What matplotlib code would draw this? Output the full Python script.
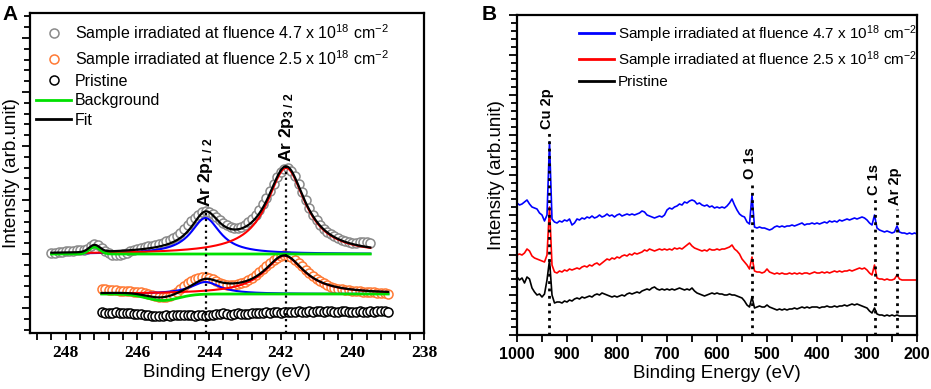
import numpy as np
import matplotlib.pyplot as plt
from matplotlib.ticker import MultipleLocator, AutoMinorLocator
from matplotlib.lines import Line2D
from matplotlib.font_manager import FontProperties

plt.rcParams['font.family'] = ['Liberation Sans', 'DejaVu Sans']
plt.rcParams['mathtext.fontset'] = 'custom'
plt.rcParams['mathtext.rm'] = 'Liberation Sans'
plt.rcParams['mathtext.bf'] = 'Liberation Sans:bold'
plt.rcParams['mathtext.it'] = 'Liberation Sans:italic'
plt.rcParams['mathtext.default'] = 'regular'

# ---------------- panel A : Ar 2p high resolution ----------------
gray_e = np.linspace(248.4, 239.5, 90)
gray_y = [55, 55, 56, 56, 57, 57, 57, 58, 58, 58,
          59, 62, 64, 63, 60, 57, 55, 53, 53, 53,
          54, 55, 57, 58, 59, 60, 61, 62, 62, 63,
          64, 65, 67, 68, 70, 72, 75, 79, 83, 87,
          90, 93, 96, 97, 96, 94, 91, 88, 85, 83,
          81, 80, 80, 81, 83, 86, 89, 93, 98, 104,
          110, 117, 124, 131, 136, 139, 140, 137, 132, 124,
          116, 108, 100, 93, 88, 83, 79, 76, 74, 72,
          70, 68, 67, 66, 65, 65, 66, 66, 66, 65]

orange_e = np.linspace(247.0, 239.0, 81)
orange_y = [19, 19, 18, 18, 18, 17, 17, 17, 17, 16,
            16, 16, 15, 14, 13, 12, 11, 11, 11, 12,
            14, 16, 19, 22, 25, 27, 29, 30, 31, 31,
            30, 29, 27, 25, 24, 23, 23, 23, 24, 25,
            26, 28, 30, 33, 36, 39, 42, 45, 48, 50,
            52, 53, 52, 51, 48, 45, 42, 38, 35, 32,
            29, 27, 25, 23, 21, 20, 19, 19, 18, 18,
            17, 17, 17, 16, 16, 16, 16, 15, 15, 15,
            14]

prist_e = np.linspace(247.0, 239.0, 81)
prist_y = [-4, -5, -5, -5, -4, -5, -5, -5, -5, -6,
           -6, -6, -7, -7, -8, -8, -8, -8, -7, -8,
           -7, -7, -7, -7, -7, -7, -8, -7, -7, -8,
           -7, -7, -6, -6, -5, -6, -7, -6, -5, -6,
           -6, -6, -5, -5, -5, -5, -4, -5, -4, -4,
           -5, -4, -4, -4, -4, -3, -4, -4, -3, -4,
           -3, -3, -4, -3, -3, -4, -4, -3, -3, -4,
           -4, -4, -3, -4, -4, -3, -4, -3, -3, -3,
           -4]

# fit parameters (centre eV, height, half width)
gray_base = 54
gray_bump = (247.2, 7, 0.15)
gray_p32 = (241.85, 86, 0.65)
gray_p12 = (244.1, 36, 0.5)
orange_base = 14
orange_dip = (245.3, -6.5, 0.45)
orange_p32 = (241.9, 38, 0.68)
orange_p12 = (244.1, 12, 0.5)
prist_base = -6.5

peak_e_a = [244.1, 241.85]
peak_lbl_a = [r'Ar 2p$_{\mathbf{1\ /\ 2}}$', r'Ar 2p$_{\mathbf{3\ /\ 2}}$']
xticks_a = [248, 246, 244, 242, 240, 238]

# ---------------- panel B : survey ----------------
survey_e = np.arange(1000, 199, -5)
blue_y = [132, 130, 131, 133, 135, 131, 128, 127, 126, 122,
          120, 114, 120, 193, 116, 113, 112, 114, 113, 115,
          114, 116, 110, 112, 116, 115, 117, 116, 118, 117,
          119, 117, 118, 120, 118, 119, 121, 119, 120, 118,
          120, 121, 119, 120, 121, 120, 121, 120, 121, 122,
          124, 123, 120, 119, 118, 117, 118, 119, 118, 120,
          125, 127, 126, 128, 129, 131, 130, 133, 132, 134,
          135, 134, 131, 132, 130, 129, 130, 128, 129, 127,
          128, 127, 128, 127, 129, 132, 136, 130, 125, 121,
          119, 118, 113, 111, 140, 108, 107, 108, 107, 107,
          106, 105, 106, 108, 109, 108, 109, 108, 109, 109,
          110, 109, 110, 111, 112, 110, 111, 111, 112, 111,
          112, 111, 112, 113, 112, 114, 113, 114, 113, 115,
          114, 115, 116, 115, 116, 117, 116, 117, 118, 117,
          115, 112, 110, 120, 107, 105, 104, 103, 104, 103,
          102, 103, 109, 103, 102, 102, 101, 102, 101, 102,
          101]
red_y = [80, 81, 80, 82, 86, 84, 79, 77, 76, 75,
         74, 73, 80, 128, 70, 63, 62, 64, 63, 65,
         64, 66, 65, 66, 67, 66, 68, 69, 68, 70,
         69, 71, 72, 70, 72, 74, 76, 75, 77, 76,
         78, 77, 79, 80, 79, 81, 80, 82, 81, 82,
         83, 85, 84, 86, 85, 84, 85, 86, 85, 86,
         85, 86, 85, 87, 86, 87, 86, 88, 90, 92,
         89, 87, 86, 85, 84, 85, 84, 86, 85, 85,
         86, 85, 86, 86, 87, 88, 90, 86, 84, 81,
         76, 73, 70, 66, 78, 64, 63, 63, 62, 63,
         66, 63, 62, 61, 62, 61, 62, 61, 61, 62,
         61, 62, 61, 62, 61, 62, 62, 61, 62, 63,
         62, 62, 63, 62, 63, 62, 63, 64, 63, 64,
         63, 64, 64, 65, 64, 65, 66, 67, 66, 67,
         65, 62, 60, 70, 57, 56, 56, 55, 56, 55,
         55, 56, 60, 56, 55, 55, 55, 55, 55, 55,
         55]
black_y = [58, 55, 57, 52, 58, 56, 47, 43, 40, 41,
           38, 41, 55, 75, 40, 32, 33, 33, 32, 34,
           33, 35, 34, 36, 37, 36, 38, 37, 38, 39,
           38, 40, 41, 40, 42, 41, 40, 39, 38, 39,
           38, 39, 40, 39, 41, 42, 41, 42, 43, 42,
           44, 45, 46, 45, 47, 48, 46, 45, 46, 45,
           46, 45, 46, 45, 46, 47, 46, 45, 46, 45,
           47, 44, 42, 41, 40, 39, 40, 41, 42, 41,
           42, 41, 41, 40, 40, 41, 40, 40, 39, 38,
           37, 34, 30, 28, 38, 27, 28, 29, 28, 28,
           30, 28, 27, 26, 25, 26, 25, 26, 25, 26,
           26, 27, 26, 27, 28, 27, 28, 27, 28, 28,
           28, 27, 28, 28, 29, 28, 28, 29, 28, 29,
           29, 30, 29, 30, 31, 30, 31, 30, 29, 28,
           27, 24, 22, 27, 21, 20, 20, 19, 20, 19,
           20, 19, 20, 19, 19, 19, 19, 19, 19, 19,
           19]

peak_e_b = [936, 531, 284, 240]
peak_top_b = [202, 152, 136, 126]
peak_lbl_b = ['Cu 2p', 'O 1s', 'C 1s', 'Ar 2p']
xticks_b = [1000, 900, 800, 700, 600, 500, 400, 300, 200]

labels = ['Sample irradiated at fluence 4.7 x 10$^{18}$ cm$^{-2}$',
          'Sample irradiated at fluence 2.5 x 10$^{18}$ cm$^{-2}$',
          'Pristine']

GRAY = '#8a8a8a'
ORANGE = '#ff7a35'
GREEN = '#00e000'


def lor(x, p):
    c, h, w = p
    return h / (1 + ((x - c) / w) ** 2)


def gau(x, p):
    c, h, s = p
    return h * np.exp(-0.5 * ((x - c) / s) ** 2)


fig = plt.figure(figsize=(9.31, 3.89), dpi=100)
axA = fig.add_axes([30 / 931, 56 / 389, 394 / 931, 320 / 389])
axB = fig.add_axes([517 / 931, 54 / 389, 400 / 931, 320 / 389])

# circles
mk = dict(ls='none', marker='o', ms=6.5, mfc='white', mew=1.1, zorder=2)
axA.plot(gray_e, gray_y, mec=GRAY, **mk)
axA.plot(orange_e, orange_y, mec=ORANGE, **mk)
axA.plot(prist_e, prist_y, mec='k', **mk)

# fits
xg = np.linspace(gray_e[0], gray_e[-1], 500)
axA.plot(xg, gray_base + lor(xg, gray_p12), color='blue', lw=1.5, zorder=3)
axA.plot(xg, gray_base + lor(xg, gray_p32), color='red', lw=1.5, zorder=3)
axA.plot(xg, gray_base + gau(xg, gray_bump), color=GREEN, lw=2, zorder=3)
axA.plot(xg, gray_base + gau(xg, gray_bump) + lor(xg, gray_p12) + lor(xg, gray_p32),
         color='k', lw=1.6, zorder=4)

xo = np.linspace(orange_e[0], orange_e[-1], 500)
axA.plot(xo, orange_base + lor(xo, orange_p12), color='blue', lw=1.5, zorder=3)
axA.plot(xo, orange_base + lor(xo, orange_p32), color='red', lw=1.5, zorder=3)
axA.plot(xo, orange_base + gau(xo, orange_dip), color=GREEN, lw=2, zorder=3)
axA.plot(xo, orange_base + gau(xo, orange_dip) + lor(xo, orange_p12) + lor(xo, orange_p32),
         color='k', lw=1.6, zorder=4)
axA.plot(prist_e, np.full(len(prist_e), prist_base), color=GREEN, lw=1.5, zorder=1)

# peak markers
gray_fit = lambda x: gray_base + gau(x, gray_bump) + lor(x, gray_p12) + lor(x, gray_p32)
for e, lbl in zip(peak_e_a, peak_lbl_a):
    top = gray_fit(e)
    axA.plot([e, e], [-25, top], ls=':', color='k', lw=1.6, zorder=5)
    axA.text(e, top + 4, lbl, rotation=90, ha='center', va='bottom',
             fontsize=12.5, fontweight='bold')

axA.set_xlim(249, 238)
axA.set_ylim(-25, 295)
axA.set_xticks(xticks_a)
axA.xaxis.set_minor_locator(AutoMinorLocator(5))
axA.yaxis.set_major_locator(MultipleLocator(54))
axA.yaxis.set_minor_locator(AutoMinorLocator(5))
axA.tick_params(labelleft=False)
axA.set_xlabel('Binding Energy (eV)', fontsize=13.5, labelpad=2)
axA.set_ylabel('Intensity (arb.unit)', fontsize=13.5, labelpad=0)

handles_a = [Line2D([], [], mec=GRAY, **mk), Line2D([], [], mec=ORANGE, **mk),
             Line2D([], [], mec='k', **mk),
             Line2D([], [], color=GREEN, lw=2), Line2D([], [], color='k', lw=2)]
axA.legend(handles_a, labels + ['Background', 'Fit'], loc='upper left',
           bbox_to_anchor=(6 / 394, 1 - 9 / 320), frameon=False, borderpad=0,
           borderaxespad=0, handlelength=2.2, handletextpad=0.25,
           labelspacing=0.27, fontsize=11.5, numpoints=1)

# ---------------- panel B drawing ----------------
axB.plot(survey_e, blue_y, color='blue', lw=1.2)
axB.plot(survey_e, red_y, color='red', lw=1.2)
axB.plot(survey_e, black_y, color='k', lw=1.2)
axB.vlines(peak_e_b, 0, peak_top_b, colors='k', linestyles=':', lw=2, zorder=5)
for e, t, lbl in zip(peak_e_b, peak_top_b, peak_lbl_b):
    axB.text(e + 3, t + 4, lbl, rotation=90, ha='center', va='bottom',
             fontsize=10.5, fontweight='bold')

axB.set_xlim(1000, 200)
axB.set_ylim(0, 320)
axB.set_xticks(xticks_b)
axB.xaxis.set_minor_locator(AutoMinorLocator(2))
axB.yaxis.set_major_locator(MultipleLocator(40))
axB.yaxis.set_minor_locator(AutoMinorLocator(5))
axB.tick_params(labelleft=False)
axB.set_xlabel('Binding Energy (eV)', fontsize=13.5, labelpad=2)
axB.set_ylabel('Intensity (arb.unit)', fontsize=13.5, labelpad=1)

handles_b = [Line2D([], [], color=c, lw=2) for c in ['blue', 'red', 'k']]
axB.legend(handles_b, labels, loc='upper left', bbox_to_anchor=(62 / 400, 1 - 8 / 320),
           frameon=False, borderpad=0, borderaxespad=0, handlelength=2.3,
           handletextpad=0.25, labelspacing=0.3, fontsize=11)

for ax in (axA, axB):
    for s in ax.spines.values():
        s.set_linewidth(1.6)
    ax.tick_params(which='major', direction='out', width=1.3, length=6)
    ax.tick_params(which='minor', direction='out', width=1.3, length=4)
    ax.tick_params(axis='x', which='both', length=5)

fig.text(2 / 931, 1 - 20 / 389, 'A', fontsize=15, fontweight='bold')
fig.text(482 / 931, 1 - 20 / 389, 'B', fontsize=15, fontweight='bold')

# tick label fonts (serif bold in A, sans bold in B), applied after a draw
fig.canvas.draw()
fpA = FontProperties(family='Liberation Serif', weight='bold', size=12.5)
fpB = FontProperties(family='Liberation Sans', weight='bold', size=11.5)
for lab in axA.get_xticklabels():
    lab.set_fontproperties(fpA)
for lab in axB.get_xticklabels():
    lab.set_fontproperties(fpB)

fig.savefig('out.png', dpi=100)
